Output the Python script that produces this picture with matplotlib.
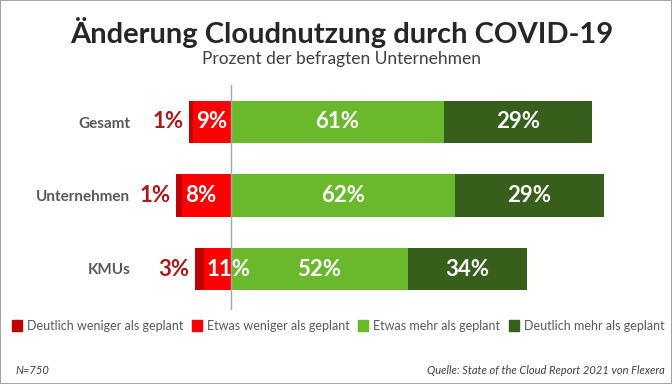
import matplotlib
matplotlib.use("Agg")
import matplotlib.pyplot as plt
from matplotlib.patches import Patch

plt.rcParams['font.family'] = ['Lato', 'DejaVu Sans']

# categories (top to bottom)
categories = ["Gesamt", "Unternehmen", "KMUs"]

# bar lengths as drawn in the picture (percent scale)
much_less = [1.1, 1.7, 2.6]
less = [10.9, 14.0, 7.7]
more = [60.9, 64.0, 50.6]
much_more = [42.3, 42.6, 34.0]

# labels printed on the bars
lbl_much_less = ["1%", "1%", "3%"]
lbl_less = ["9%", "8%", "11%"]
lbl_more = ["61%", "62%", "52%"]
lbl_much_more = ["29%", "29%", "34%"]

series_names = ["Deutlich weniger als geplant", "Etwas weniger als geplant",
                "Etwas mehr als geplant", "Deutlich mehr als geplant"]
colors = ["#C00000", "#FF0000", "#6AB92D", "#375F1B"]

fig = plt.figure(figsize=(6.72, 3.84), dpi=100, linewidth=1.2, edgecolor="#A6A6A6")
ax = fig.add_axes([140/672, 1 - 310/384, 520/672, 225/384])

y = list(range(len(categories)))
h = 0.585

# negative side
left_less = [-v for v in less]
left_much_less = [-(a + b) for a, b in zip(less, much_less)]
ax.barh(y, less, left=left_less, height=h, color=colors[1])
ax.barh(y, much_less, left=left_much_less, height=h, color=colors[0])
# positive side
ax.barh(y, more, height=h, color=colors[2])
ax.barh(y, much_more, left=more, height=h, color=colors[3])

ax.axvline(0, color="#A6A6A6", lw=1)

for i in y:
    ax.annotate(lbl_much_less[i], (left_much_less[i], i), xytext=(-4, 0),
                textcoords="offset points", ha="right", va="center",
                fontsize=16, fontweight="bold", color="#A61C1C")
    ax.annotate(lbl_less[i], (left_less[i], i), xytext=(2, 0),
                textcoords="offset points", ha="left", va="center",
                fontsize=16, fontweight="bold", color="white")
    ax.text(more[i] / 2, i, lbl_more[i], ha="center", va="center",
            fontsize=16, fontweight="bold", color="white")
    ax.text(more[i] + much_more[i] / 2, i, lbl_much_more[i], ha="center",
            va="center", fontsize=16, fontweight="bold", color="white")

ax.set_xlim(-(231 - 140) / 3.5, (660 - 231) / 3.5)
ax.set_ylim((310 - 122) / 73.5, -(122 - 85) / 73.5)
ax.set_yticks(y)
ax.set_yticklabels(categories, fontsize=11, fontweight="bold", color="#595959")
ax.tick_params(axis="y", length=0, pad=7)
ax.set_xticks([])
for s in ax.spines.values():
    s.set_visible(False)

fig.text(0.508, 1 - 32/384, "Änderung Cloudnutzung durch COVID-19", ha="center",
         va="center", fontsize=21, fontweight="bold", color="#262626")
fig.text(0.508, 1 - 59/384, "Prozent der befragten Unternehmen", ha="center",
         va="center", fontsize=12.5, color="#404040")

handles = [Patch(color=c) for c in colors]
leg = fig.legend(handles, series_names, ncol=4, loc="center",
                 bbox_to_anchor=(0.503, 1 - 326/384), frameon=False,
                 fontsize=9, handlelength=0.8, handleheight=1.0,
                 handletextpad=0.4, columnspacing=0.7)
for t in leg.get_texts():
    t.set_color("#595959")

fig.text(15/672, 1 - 370/384, "N=750", ha="left", va="center",
         fontsize=8, style="italic", color="#404040")
fig.text(665/672, 1 - 370/384, "Quelle: State of the Cloud Report 2021 von Flexera",
         ha="right", va="center", fontsize=8, style="italic", color="#404040")

fig.savefig("out.png", dpi=100)
